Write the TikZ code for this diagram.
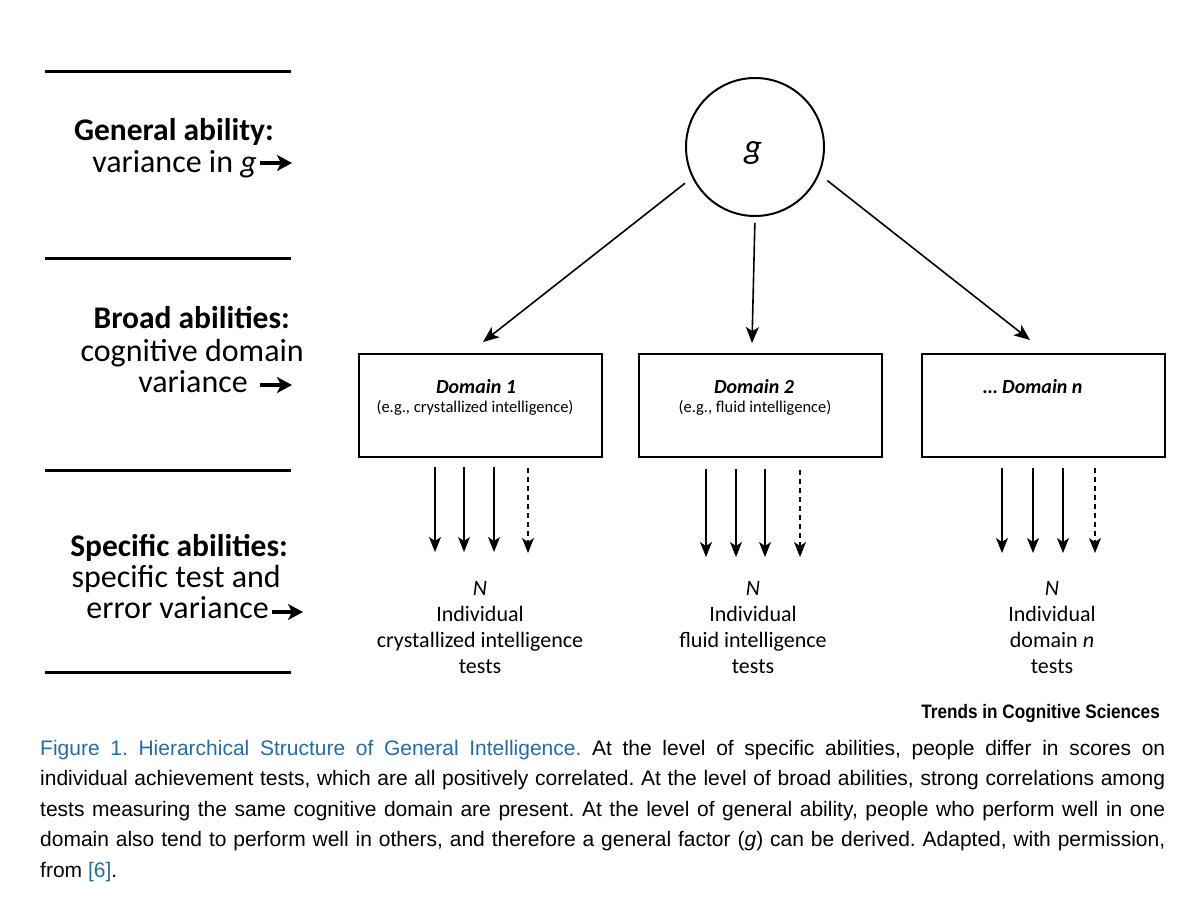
\documentclass[tikz,border=0pt]{standalone}
\usepackage{fontspec}
\setmainfont{Carlito}
\newfontfamily\capfont{Liberation Sans}
\newfontfamily\trendfont[FakeStretch=0.88]{Liberation Sans}
\usetikzlibrary{arrows.meta}
\definecolor{capblue}{RGB}{38,108,162}
\begin{document}
\frenchspacing
\begin{tikzpicture}[x=1pt,y=-1pt,
  rulebar/.style={line width=3pt},
  lbl/.style={inner sep=0pt, anchor=base east, font=\fontsize{32}{32}\selectfont},
  lblb/.style={inner sep=0pt, anchor=base east, font=\fontsize{31.5}{32}\selectfont\bfseries},
  lblarr/.style={-{Stealth[length=15pt,width=16pt,inset=4pt]}, line width=3.2pt},
  domainbox/.style={draw, line width=2pt, minimum width=243pt, minimum height=103pt, inner sep=0pt},
  dtitle/.style={inner sep=0pt, anchor=base, font=\fontsize{20}{24}\selectfont\bfseries\itshape},
  dsub/.style={inner sep=0pt, anchor=base, font=\fontsize{16.5}{20}\selectfont},
  conn/.style={-{Stealth[length=16pt,width=13pt,inset=4pt]}, line width=1.6pt},
  testarr/.style={-{Stealth[length=15pt,width=12pt,inset=4pt]}, line width=1.5pt},
  testdash/.style={testarr, dash pattern=on 5pt off 4pt},
  tline/.style={inner sep=0pt, anchor=base, font=\fontsize{22}{26}\selectfont}
]
\useasboundingbox (0,0) rectangle (1200,902);

% horizontal rules
\coordinate (r1a) at (45,71);  \coordinate (r1b) at (291,71);
\coordinate (r2a) at (45,258); \coordinate (r2b) at (291,258);
\coordinate (r3a) at (45,470); \coordinate (r3b) at (291,470);
\coordinate (r4a) at (45,672); \coordinate (r4b) at (291,672);
\draw[rulebar] (r1a) -- (r1b);
\draw[rulebar] (r2a) -- (r2b);
\draw[rulebar] (r3a) -- (r3b);
\draw[rulebar] (r4a) -- (r4b);

% left labels
\node[lblb] (ga) at (274,140) {General ability:};
\node[lbl]  (vg) at (257,172) {variance in \textit{g}};
\coordinate (la1) at (260,163); \coordinate (lb1) at (292,163);
\draw[lblarr] (la1) -- (lb1);

\node[lblb] (ba) at (290,328) {Broad abilities:};
\node[lbl]  (cd) at (304,361) {cognitive domain};
\node[lbl]  (va) at (248,392) {variance};
\coordinate (la2) at (260,385); \coordinate (lb2) at (292,385);
\draw[lblarr] (la2) -- (lb2);

\node[lblb] (sa) at (288,556) {Specific abilities:};
\node[lbl]  (st) at (281,587) {specific test and};
\node[lbl]  (ev) at (269,618) {error variance};
\coordinate (la3) at (272,612); \coordinate (lb3) at (303,612);
\draw[lblarr] (la3) -- (lb3);

% g circle
\node[draw, circle, line width=2pt, minimum size=138pt, inner sep=0pt] (g) at (755,147) {};
\node[inner sep=0pt, anchor=base, font=\fontsize{35}{35}\selectfont\itshape] (gl) at (753,158) {g};

% domain boxes
\node[domainbox] (d1) at (480.5,405.5) {};
\node[domainbox] (d2) at (760,405.5) {};
\node[domainbox] (dn) at (1043,405.5) {};
\node[dtitle] (d1t) at (476,393) {Domain 1};
\node[dsub]   (d1s) at (475,412) {(e.g., crystallized intelligence)};
\node[dtitle] (d2t) at (754,393) {Domain 2};
\node[dsub]   (d2s) at (755,412) {(e.g., fluid intelligence)};
\node[dtitle] (dnt) at (1033,393) {\dots\ Domain \textit{n}};

% connectors from g
\coordinate (e1) at (483,342);
\coordinate (e2) at (752,343);
\coordinate (e3) at (1030,340);
\draw[conn, shorten <=9pt] (g.206.6) -- (e1);
\draw[conn, shorten <=6pt] (g.south) -- (e2);
\draw[conn, shorten <=10pt] (g.-23) -- (e3);

% test arrows
\foreach \nm/\x/\t/\b in {a1/435/467/552, a2/464/467/552, a3/494/467/552,
                          b1/706/469/557, b2/736/469/557, b3/765/469/557,
                          c1/1002/468/553, c2/1033/468/553, c3/1063/468/553}{
  \coordinate (\nm s) at (\x,\t);
  \coordinate (\nm e) at (\x,\b);
  \draw[testarr] (\nm s) -- (\nm e);
}
\foreach \nm/\x/\t/\b in {a4/528/468/553, b4/800/470/557, c4/1095/468/553}{
  \coordinate (\nm s) at (\x,\t);
  \coordinate (\nm e) at (\x,\b);
  \draw[testdash] (\nm s) -- (\nm e);
}

% test labels
\node[tline] (n1) at (480,595) {\textit{N}};
\node[tline] (i1) at (480,621) {Individual};
\node[tline] (c1) at (480,647) {crystallized intelligence};
\node[tline] (t1) at (480,673) {tests};
\node[tline] (n2) at (753,595) {\textit{N}};
\node[tline] (i2) at (753,621) {Individual};
\node[tline] (c2) at (753,647) {fluid intelligence};
\node[tline] (t2) at (753,673) {tests};
\node[tline] (n3) at (1052,595) {\textit{N}};
\node[tline] (i3) at (1052,621) {Individual};
\node[tline] (c3) at (1052,647) {domain \textit{n}};
\node[tline] (t3) at (1052,673) {tests};

% journal tag
\node[inner sep=0pt, anchor=base east, font=\trendfont\bfseries\fontsize{19.5}{20}\selectfont] (tr) at (1160,718) {Trends in Cognitive Sciences};

% caption
\node[anchor=north west, inner sep=0pt, text width=1125pt, align=justify,
      font=\capfont\fontsize{21}{30.5}\selectfont] (cap) at (40,740)
{\textcolor{capblue}{Figure 1. Hierarchical Structure of General Intelligence.} At the level of specific abilities, people differ in scores on\linebreak
individual achievement tests, which are all positively correlated. At the level of broad abilities, strong correlations among\linebreak
tests measuring the same cognitive domain are present. At the level of general ability, people who perform well in one\linebreak
domain also tend to perform well in others, and therefore a general factor (\textit{g}) can be derived. Adapted, with permission,\linebreak
from \textcolor{capblue}{[6]}.};
\end{tikzpicture}
\end{document}
